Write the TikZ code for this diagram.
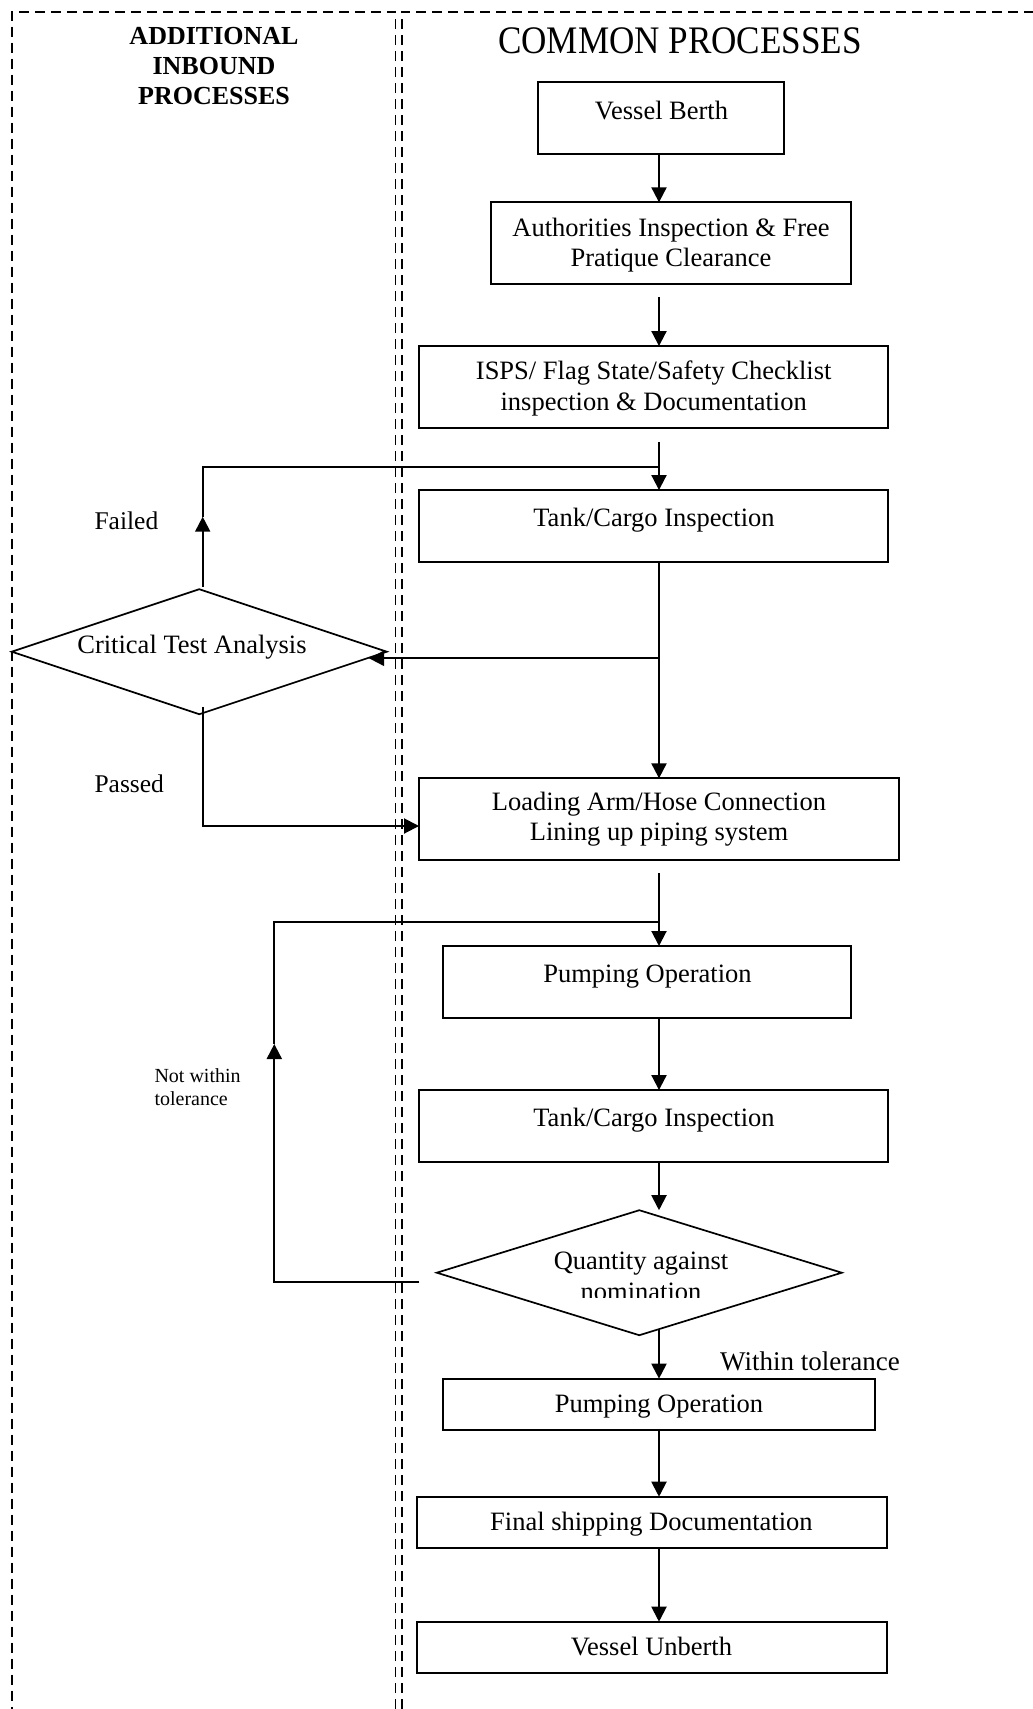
\documentclass[tikz,border=0pt]{standalone}
\usepackage{fontspec}
\setmainfont{Liberation Serif}
\newfontfamily\titlefont[FakeStretch=0.9]{Liberation Serif}
\usetikzlibrary{shapes.geometric,arrows.meta}
\begin{document}
\begin{tikzpicture}[x=1pt,y=-1pt,
  box/.style={draw, line width=2pt, inner sep=0pt, outer sep=0pt},
  dia/.style={draw, diamond, line width=1.7pt, inner sep=0pt, outer sep=0pt},
  txt/.style={font=\fontsize{26.5}{30.5}\selectfont, align=center, inner sep=0pt},
  lab/.style={font=\fontsize{25.5}{29}\selectfont, inner sep=0pt},
  small/.style={font=\fontsize{20}{22.3}\selectfont, align=left, inner sep=0pt},
  arr/.style={line width=2pt, -{Triangle[length=15pt,width=15pt]}},
  con/.style={line width=2pt},
  frame/.style={line width=1.8pt, dash pattern=on 10pt off 6pt}]
\useasboundingbox (0,0) rectangle (1033,1709);

% frames
\draw[frame] (395.5,1725) -- (395.5,11.7) -- (11.7,11.7) -- (11.7,1725);
\draw[frame] (401.7,1725) -- (401.7,11.7) -- (1045,11.7);

% titles (multi-line nodes: base = last line)
\node[font=\bfseries\fontsize{26}{29.7}\selectfont, align=center, inner sep=0pt, anchor=base] (t1) at (214,104) {ADDITIONAL\\INBOUND\\PROCESSES};
\node[font=\titlefont\fontsize{39}{45}\selectfont, inner sep=0pt, anchor=base] (t2) at (680,53.5) {COMMON PROCESSES};

% boxes
\node[box, minimum width=246pt, minimum height=72pt] (vb) at (661,118) {};
\node[box, minimum width=360pt, minimum height=81.7pt] (au) at (670.7,243.2) {};
\node[box, minimum width=469.3pt, minimum height=81.5pt] (is) at (653.7,386.8) {};
\node[box, minimum width=469.3pt, minimum height=72.3pt] (tc1) at (653.7,526.2) {};
\node[box, minimum width=480pt, minimum height=81.7pt] (ld) at (659,819.2) {};
\node[box, minimum width=408.3pt, minimum height=72pt] (p1) at (646.8,982) {};
\node[box, minimum width=469pt, minimum height=72.3pt] (tc2) at (653.5,1126.2) {};
\node[dia, minimum width=405pt, minimum height=125pt] (q) at (639.3,1272.7) {};
\node[box, minimum width=432.3pt, minimum height=51.3pt] (p2) at (658.8,1404.3) {};
\node[box, minimum width=469.4pt, minimum height=51.6pt] (fin) at (652,1522.5) {};
\node[box, minimum width=469.4pt, minimum height=51pt] (unb) at (652,1647.2) {};
\node[dia, minimum width=375pt, minimum height=125pt] (cta) at (199.3,651.7) {};

% texts
\node[txt, anchor=base] (x1) at (661.5,119) {Vessel Berth};
\node[txt, anchor=base] (x2) at (671,266.7) {Authorities Inspection \& Free\\Pratique Clearance};
\node[txt, anchor=base] (x3) at (653.7,410) {ISPS/ Flag State/Safety Checklist\\inspection \& Documentation};
\node[txt, anchor=base] (x4) at (654,526.7) {Tank/Cargo Inspection};
\node[txt, anchor=base] (x5) at (659,840.7) {Loading Arm/Hose Connection\\Lining up piping system};
\node[txt, anchor=base] (x6) at (647.5,982.7) {Pumping Operation};
\node[txt, anchor=base] (x7) at (654,1126) {Tank/Cargo Inspection};
\node[txt, anchor=base] (x8) at (659,1412.7) {Pumping Operation};
\node[txt, anchor=base] (x9) at (651.4,1530) {Final shipping Documentation};
\node[txt, anchor=base] (x10) at (651.5,1655) {Vessel Unberth};
\node[txt, anchor=base] (x11) at (192,653) {Critical Test Analysis};
\begin{scope}
\clip (440,1225) rectangle (840,1297.5);
\node[txt, anchor=base] (x12) at (641,1300) {Quantity against\\nomination};
\end{scope}
\node[font=\fontsize{27}{31}\selectfont, inner sep=0pt, anchor=base west] (x13) at (720,1370) {Within tolerance};
\node[lab, anchor=base west] (x14) at (94.3,529.3) {Failed};
\node[lab, anchor=base west] (x15) at (94.3,792.7) {Passed};
\node[small, anchor=base west] (x16) at (154.3,1105) {Not within\\tolerance};

% main column
\coordinate (col) at (659,0);
\draw[arr] (vb.south -| col) -- (au.north -| col);
\draw[arr] ([yshift=-12.7pt]au.south -| col) -- (is.north -| col);
\draw[arr] ([yshift=-14.2pt]is.south -| col) -- (tc1.north -| col);
\draw[arr] (tc1.south -| col) -- (ld.north -| col);
\draw[arr] ([yshift=-13.3pt]ld.south -| col) -- (p1.north -| col);
\draw[arr] (p1.south -| col) -- (tc2.north -| col);
\draw[arr] (tc2.south -| col) -- (q.north -| col);
\draw[arr] ([yshift=6.2pt]q.south -| col) -- (p2.north -| col);
\draw[arr] (p2.south -| col) -- (fin.north -| col);
\draw[arr] (fin.south -| col) -- (unb.north -| col);

% branch to critical test analysis
\coordinate (b1) at (659,658.3);
\draw[arr] (b1) -- (b1 -| cta.-2.2);

% failed loop
\coordinate (fa) at (202.7,516.7);
\coordinate (j1) at (659,466.7);
\draw[arr] ([xshift=3.4pt,yshift=2.6pt]cta.north) -- (fa);
\draw[con] (fa) |- (j1);

% passed
\draw[arr] ([xshift=3.4pt,yshift=7.3pt]cta.south) |- ([yshift=-6.8pt]ld.west);

% not within tolerance loop
\coordinate (q0) at (419.3,1282.3);
\coordinate (nt) at (274.3,1044);
\coordinate (j2) at (659,921.7);
\draw[arr] (q0) -| (nt);
\draw[con] (nt) |- (j2);
\end{tikzpicture}
\end{document}
